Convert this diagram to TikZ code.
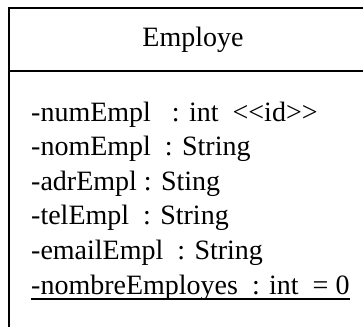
\documentclass[tikz,border=0pt]{standalone}
\usepackage{fontspec}
\newfontfamily\umlfont{Liberation Serif}
\usepackage{tikz}

\begin{document}
\begin{tikzpicture}[x=1pt,y=-1pt, every node/.style={font=\umlfont\fontsize{28}{32}\selectfont, inner sep=0pt}, attr/.style={anchor=base west}]
\useasboundingbox (0,0) rectangle (363,326);
\clip (0,0) rectangle (363,326);
\draw[line width=2pt] (9,340) |- (377,8) -- (377,340);
\draw[line width=2pt] (9,71.5) -- (377,71.5);
\node (cls) at (193,40) {Employe};
\node[attr] (a1) at (31,121) {-numEmpl~~ : int ~<<id>>};
\node[attr] (a2) at (31,155.6) {-nomEmpl~ : String};
\node[attr] (a3) at (31,190.2) {-adrEmpl : Sting};
\node[attr] (a4) at (31,224.8) {-telEmpl~ : String};
\node[attr] (a5) at (31,259.4) {-emailEmpl~ : String};
\node[attr] (a6) at (31,294) {-nombreEmployes~ : int ~= 0};
\draw[line width=1.5pt] (a6.base west) ++(0,5) -- ([yshift=-5pt]a6.base east);
\end{tikzpicture}
\end{document}
